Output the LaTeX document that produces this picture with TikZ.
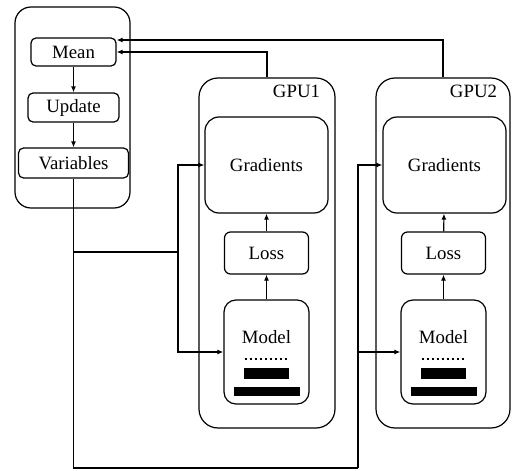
\documentclass[tikz,border=0pt]{standalone}
\usepackage{fontspec}
\setmainfont{Liberation Serif}
\usetikzlibrary{arrows.meta,positioning,calc}

\begin{document}
\begin{tikzpicture}[
    x=1pt, y=-1pt,
    font=\fontsize{18.8}{22}\selectfont,
    line width=1.2pt,
    box/.style={draw, rounded corners=5pt, inner sep=0pt, align=center},
    outer/.style={draw, rounded corners=19pt, inner sep=0pt},
    arr/.style={-{Latex[length=6pt,width=5pt]}, line width=1.2pt},
    dotrow/.style={line width=2.4pt, dash pattern=on 2pt off 3pt},
    bar/.style={fill=black}
]
\useasboundingbox (0,0) rectangle (512,471);

% host side
\node[outer, rounded corners=16pt, minimum width=115pt, minimum height=201pt] (host) at (72.5,107.5) {};
\node[box, minimum width=85pt, minimum height=28pt] (mean) at (73.5,52) {Mean};
\node[box, minimum width=91pt, minimum height=29pt] (update) at (73.5,107.5) {Update};
\node[box, minimum width=110pt, minimum height=30pt] (vars) at (73.5,163) {Variables};

% GPU1
\node[outer, minimum width=136pt, minimum height=350pt] (gpu1) at (267,253) {};
\node[anchor=east, inner sep=0pt] (gpu1lab) at ([xshift=-15pt,yshift=-14pt]gpu1.north east) {GPU1};
\node[box, rounded corners=14pt, minimum width=123pt, minimum height=96pt] (grad1) at (266.5,165) {Gradients};
\node[box, rounded corners=6pt, minimum width=84pt, minimum height=42pt] (loss1) at (266.5,253) {Loss};
\node[box, rounded corners=12pt, minimum width=85pt, minimum height=104pt] (model1) at (266.5,352) {};
\node (model1txt) at ($(model1)+(0,-15)$) {Model};
\draw[dotrow] ($(model1)+(-22,7)$) -- ($(model1)+(22,7)$);
\fill[bar] ($(model1)+(-22.5,16)$) rectangle ($(model1)+(22.5,27)$);
\fill[bar] ($(model1)+(-33,35)$) rectangle ($(model1)+(33,44)$);

% GPU2
\node[outer, minimum width=134pt, minimum height=350pt] (gpu2) at (443,253) {};
\node[anchor=east, inner sep=0pt] (gpu2lab) at ([xshift=-13pt,yshift=-14pt]gpu2.north east) {GPU2};
\node[box, rounded corners=14pt, minimum width=123pt, minimum height=96pt] (grad2) at (444.5,165) {Gradients};
\node[box, rounded corners=6pt, minimum width=84pt, minimum height=42pt] (loss2) at (443.5,253) {Loss};
\node[box, rounded corners=12pt, minimum width=85pt, minimum height=104pt] (model2) at (443.5,352) {};
\node (model2txt) at ($(model2)+(0,-15)$) {Model};
\draw[dotrow] ($(model2)+(-22,7)$) -- ($(model2)+(22,7)$);
\fill[bar] ($(model2)+(-22.5,16)$) rectangle ($(model2)+(22.5,27)$);
\fill[bar] ($(model2)+(-33,35)$) rectangle ($(model2)+(33,44)$);

% arrows inside
\draw[arr] (mean) -- (update);
\draw[arr] (update) -- (vars);
\draw[arr] (model1) -- (loss1);
\draw[arr] (loss1) -- (grad1);
\draw[arr] (model2) -- (loss2);
\draw[arr] (loss2) -- (grad2);

% gradients back to mean
\draw[arr] (gpu1.north) |- (mean.east);
\draw[arr] (gpu2.north) |- ([yshift=12pt]mean.east);

% variables out to the GPUs
\coordinate (split1) at (178,252);
\coordinate (split2) at (358,468);
\draw (vars.south) -- (vars.south |- split2) -- (split2);
\draw (vars.south |- split1) -- (split1);
\draw[arr] (split1) |- (grad1.west);
\draw[arr] (split1) |- (model1.west);
\draw[arr] (split2) |- (grad2.west);
\draw[arr] (split2 |- model2.west) -- (model2.west);
\end{tikzpicture}
\end{document}
